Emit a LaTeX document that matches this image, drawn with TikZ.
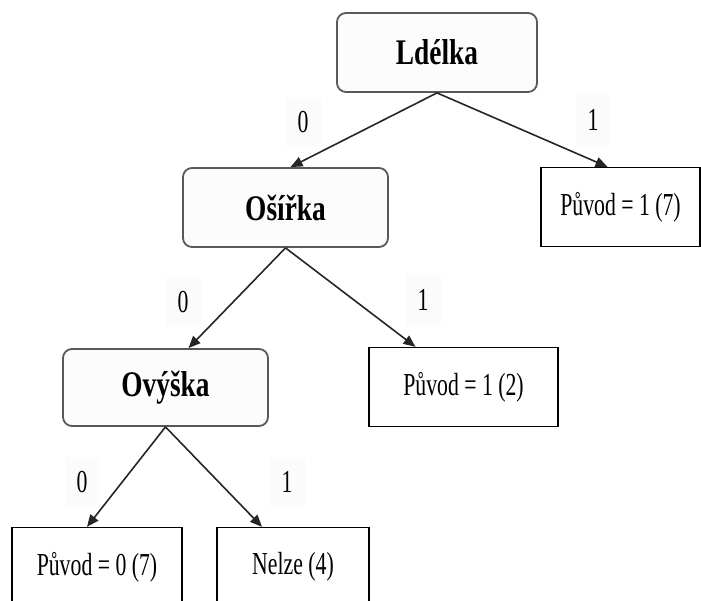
\documentclass[tikz,border=0pt]{standalone}
\usepackage{fontspec}
\setmainfont{Liberation Serif}
\newfontfamily\narrowfont[FakeStretch=0.68]{Liberation Serif}
\newfontfamily\narrowbold[FakeStretch=0.76]{Liberation Serif}
\usetikzlibrary{arrows.meta}
\begin{document}
\begin{tikzpicture}[x=1pt,y=-1pt,
	attr/.style={draw=black!65,line width=1.8pt,rounded corners=9pt,fill=black!1,minimum width=205pt,minimum height=79pt,font=\narrowbold\bfseries\fontsize{36}{40}\selectfont},
	leaf/.style={draw=black,line width=1.3pt,minimum height=79pt,font=\narrowfont\fontsize{32}{36}\selectfont},
	val/.style={fill=black!1.5,minimum width=35pt,minimum height=50pt,font=\narrowfont\fontsize{32}{36}\selectfont},
	arr/.style={-{Triangle[length=12pt,width=10pt]},line width=1.6pt,draw=black!85}]
		\clip (0,0) rectangle (701,601);
		%attributes
		\node[attr,minimum width=200pt] (ldelka) at (437,52.5) {Ldélka};
		\node[attr] (osirka) at (285.5,207.5) {Ošířka};
		\node[attr,minimum height=77pt] (ovyska) at (165.5,387.5) {Ovýška};
		%leaves
		\node[leaf,minimum width=159pt] (puvodA) at (620.5,207) {Původ = 1 (7)};
		\node[leaf,minimum width=189pt] (puvodB) at (463.5,387) {Původ = 1 (2)};
		\node[leaf,minimum width=170pt] (puvodC) at (97,567) {Původ = 0 (7)};
		\node[leaf,minimum width=152pt] (nelze) at (293,567) {Nelze (4)};
		%branch values
		\node[val] (ldelkaN) at (303,122) {0};
		\node[val] (ldelkaY) at (593,120) {1};
		\node[val] (osirkaN) at (183,302) {0};
		\node[val] (osirkaY) at (423,300) {1};
		\node[val] (ovyskaN) at (82,482) {0};
		\node[val] (ovyskaY) at (287,482) {1};
		\draw[arr] (ldelka.south) -- ([xshift=5pt]osirka.north);
		\draw[arr] (ldelka.south) -- ([xshift=-13pt]puvodA.north);
		\draw[arr] (osirka.south) -- ([xshift=23pt]ovyska.north);
		\draw[arr] (osirka.south) -- ([xshift=-48pt]puvodB.north);
		\draw[arr] (ovyska.south) -- ([xshift=-10pt]puvodC.north);
		\draw[arr] (ovyska.south) -- ([xshift=-31pt]nelze.north);
\end{tikzpicture}
\end{document}
